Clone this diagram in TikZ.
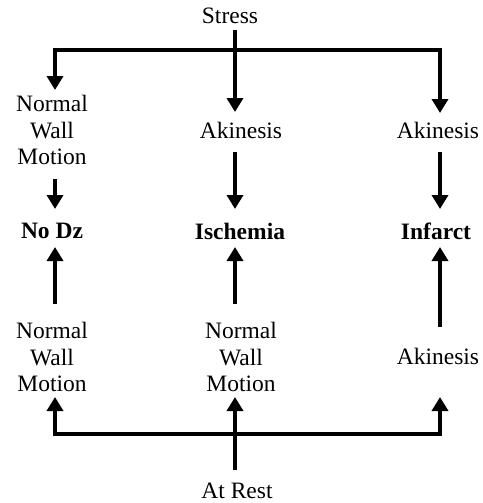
\documentclass[tikz,border=0pt]{standalone}
\usepackage{fontspec}
\setmainfont{Liberation Serif}
\usetikzlibrary{arrows.meta}
\begin{document}
\begin{tikzpicture}[x=1pt,y=-1pt,
  lbl/.style={inner sep=0pt,align=center,font=\fontsize{23.5}{26.5}\selectfont},
  blbl/.style={lbl,font=\fontsize{23.5}{26.5}\selectfont\bfseries},
  ln/.style={line width=3.5pt,line join=miter},
  arr/.style={ln,-{Triangle[length=14pt,width=16pt]}}]
\useasboundingbox (0,0) rectangle (482,503);
% text nodes
\node[lbl] (stress) at (230,16) {Stress};
\node[lbl] (nwL) at (52,130) {Normal\\Wall\\Motion};
\node[lbl] (akM) at (241,130) {Akinesis};
\node[lbl] (akR) at (438,130) {Akinesis};
\node[blbl] (nodz) at (52,231) {No Dz};
\node[blbl] (isch) at (240,231) {Ischemia};
\node[blbl] (inf) at (436,231) {Infarct};
\node[lbl] (nwLb) at (52,357) {Normal\\Wall\\Motion};
\node[lbl] (nwMb) at (241,357) {Normal\\Wall\\Motion};
\node[lbl] (akRb) at (438,356) {Akinesis};
\node[lbl] (rest) at (237,491) {At Rest};
% junction coordinates
\coordinate (tL) at (55,50);
\coordinate (tR) at (440,50);
\coordinate (bL) at (55,434);
\coordinate (bR) at (440,434);
% top split
\draw[arr] (tR) -- (tL) -- (tL |- 0,90);
\draw[arr] (tL) -- (tR) -- (tR |- 0,113);
\draw[arr] (235,30) -- (235,112);
% down arrows
\draw[arr] (55,179) -- (55,209);
\draw[arr] (235,152) -- (235,209);
\draw[arr] (440,152) -- (440,209);
% up arrows
\draw[arr] (55,304) -- (55,247);
\draw[arr] (235,304) -- (235,247);
\draw[arr] (440,327) -- (440,247);
% bottom split
\draw[arr] (bR) -- (bL) -- (bL |- 0,397);
\draw[arr] (bL) -- (bR) -- (bR |- 0,397);
\draw[arr] (235,470) -- (235,397);
\end{tikzpicture}
\end{document}
